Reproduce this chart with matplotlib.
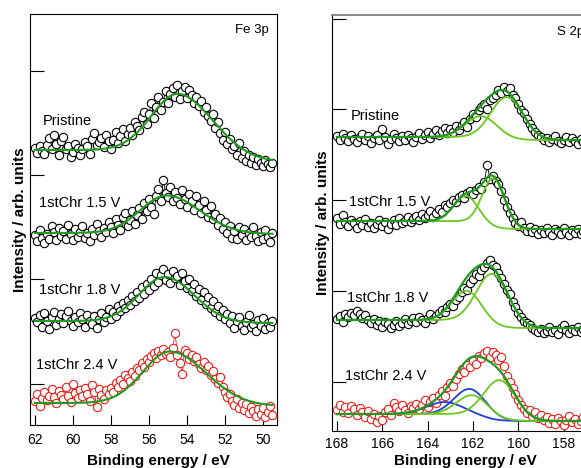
import numpy as np
import matplotlib
matplotlib.use('Agg')
import matplotlib.pyplot as plt

plt.rcParams['font.family'] = ['Liberation Sans', 'DejaVu Sans']

# Measured binding energies (eV), even steps of 0.125 eV.
fe_energy = np.linspace(62.0, 49.5, 101)
s_energy = np.linspace(168.0, 156.5, 93)

spectrum_labels = ['Pristine', '1stChr 1.5 V', '1stChr 1.8 V', '1stChr 2.4 V']

# Fe 3p intensities (arb. units, offset per spectrum).
fe_pristine = [
    277, 272, 279, 274, 271, 280, 287, 276, 290, 281, 270, 284, 288, 276, 279, 268,
    273, 281, 277, 270, 276, 283, 279, 271, 286, 292, 280, 283, 287, 278, 290, 284,
    276, 285, 293, 282, 289, 296, 284, 291, 297, 290, 303, 299, 295, 308, 313, 301,
    311, 322, 307, 318, 328, 315, 323, 334, 322, 331, 337, 328, 340, 326, 334, 338,
    327, 335, 330, 322, 328, 319, 324, 313, 318, 309, 304, 311, 297, 303, 292, 285,
    293, 281, 286, 276, 279, 270, 282, 267, 274, 264, 270, 262, 268, 260, 266, 262,
    259, 265, 261, 258, 262]
fe_chr15 = [
    190, 184, 195, 187, 182, 191, 186, 199, 193, 185, 197, 189, 194, 186, 200, 191,
    185, 196, 188, 193, 199, 187, 192, 184, 196, 190, 201, 194, 188, 197, 193, 203,
    198, 192, 206, 200, 195, 208, 212, 199, 205, 214, 201, 210, 217, 206, 222, 214,
    226, 218, 211, 229, 236, 224, 245, 232, 228, 238, 224, 233, 227, 221, 235, 226,
    218, 231, 224, 215, 229, 220, 212, 224, 215, 208, 219, 206, 211, 200, 207, 196,
    203, 192, 199, 187, 194, 186, 198, 190, 196, 185, 192, 188, 198, 189, 184, 193,
    186, 195, 188, 183, 192]
fe_chr18 = [
    107, 103, 110, 98, 112, 104, 96, 108, 113, 100, 106, 111, 102, 109, 114, 104,
    99, 108, 103, 112, 106, 98, 110, 104, 101, 109, 97, 106, 112, 103, 108, 116,
    106, 113, 109, 119, 114, 122, 117, 125, 120, 129, 124, 133, 127, 138, 131, 141,
    135, 146, 139, 152, 143, 150, 156, 145, 151, 142, 154, 147, 149, 140, 152, 144,
    137, 146, 134, 141, 129, 136, 125, 133, 121, 128, 117, 124, 113, 119, 109, 115,
    106, 111, 102, 109, 97, 104, 108, 99, 95, 103, 110, 98, 101, 94, 105, 99,
    107, 96, 102, 98, 104]
fe_chr24 = [
    24, 31, 19, 27, 33, 25, 29, 36, 28, 22, 34, 30, 26, 38, 29, 23,
    41, 32, 27, 35, 29, 37, 31, 24, 40, 33, 18, 36, 30, 26, 35, 31,
    37, 33, 42, 38, 45, 41, 50, 47, 44, 53, 49, 57, 55, 62, 58, 66,
    63, 69, 72, 67, 74, 70, 76, 71, 73, 68, 77, 92, 70, 62, 51, 75,
    72, 66, 70, 64, 68, 61, 57, 63, 55, 59, 50, 54, 46, 42, 48, 38,
    33, 28, 31, 24, 20, 26, 17, 22, 15, 21, 12, 18, 14, 9, 16, 11,
    17, 8, 13, 19, 10]

# S 2p intensities (arb. units, offset per spectrum).
s_pristine = [
    295, 291, 297, 293, 290, 296, 292, 289, 294, 297, 291, 295, 288, 293, 296, 291,
    302, 294, 287, 292, 297, 293, 290, 295, 291, 296, 293, 289, 294, 298, 292, 296,
    299, 293, 297, 301, 296, 300, 303, 298, 302, 299, 305, 301, 306, 309, 304, 312,
    317, 314, 321, 324, 327, 322, 331, 333, 336, 341, 338, 344, 340, 343, 336, 333,
    327, 321, 318, 312, 307, 303, 299, 296, 294, 291, 293, 289, 292, 295, 290, 288,
    291, 294, 289, 293, 290, 287, 292, 289, 294, 290, 288, 292, 289]
s_chr15 = [
    213, 207, 216, 209, 205, 211, 208, 203, 210, 206, 212, 204, 208, 203, 207, 211,
    205, 209, 202, 207, 211, 206, 213, 208, 210, 214, 209, 212, 215, 211, 217, 213,
    216, 220, 214, 218, 222, 219, 226, 224, 228, 231, 229, 234, 236, 233, 238, 240,
    237, 241, 244, 242, 249, 266, 252, 255, 250, 247, 240, 231, 224, 218, 213, 208,
    205, 209, 203, 200, 204, 199, 202, 197, 201, 198, 203, 199, 196, 202, 200, 197,
    203, 199, 196, 201, 198, 202, 197, 200, 196, 201, 198, 203, 199]
s_chr18 = [
    112, 115, 109, 117, 114, 118, 116, 120, 117, 113, 116, 111, 108, 112, 106, 110,
    104, 109, 107, 103, 106, 110, 105, 108, 112, 107, 110, 113, 109, 114, 111, 108,
    113, 117, 112, 115, 118, 121, 119, 124, 127, 125, 131, 134, 139, 143, 141, 148,
    152, 157, 155, 161, 164, 168, 171, 166, 164, 158, 153, 147, 141, 137, 129, 124,
    118, 114, 110, 108, 106, 103, 101, 99, 102, 98, 100, 104, 99, 101, 97, 103,
    106, 101, 98, 102, 100, 104, 99, 102, 98, 103, 100, 97, 101]
s_chr24 = [
    21, 26, 19, 24, 18, 25, 22, 16, 23, 19, 14, 20, 12, 17, 9, 15,
    11, 19, 22, 16, 28, 24, 20, 26, 21, 18, 25, 23, 27, 22, 26, 31,
    24, 29, 33, 28, 36, 40, 35, 44, 48, 45, 52, 57, 62, 59, 66, 64,
    70, 67, 75, 73, 78, 80, 74, 79, 76, 71, 74, 65, 55, 49, 43, 37,
    31, 26, 22, 18, 21, 15, 19, 13, 16, 11, 14, 8, 12, 7, 13, 10,
    6, 11, 15, 9, 12, 7, 10, 14, 9, 13, 8, 11, 7]

fe_spectra = [fe_pristine, fe_chr15, fe_chr18, fe_chr24]
s_spectra = [s_pristine, s_chr15, s_chr18, s_chr24]
data_colors = ['black', 'black', 'black', '#e8201c']

# Fe 3p fit: peak centre, height, width on high / low BE side, background high / low.
fe_center = [54.35, 55.05, 55.15, 54.85]
fe_height = [62, 38, 45, 53]
fe_sigma_high = [1.45, 1.4, 1.35, 1.45]
fe_sigma_low = [1.85, 1.75, 1.55, 1.9]
fe_bg_high = [275, 192, 104, 22]
fe_bg_low = [263, 191, 102, 19]

# S 2p fit: background and doublet components per spectrum.
s_bg_high = [294, 210, 111, 17]
s_bg_low = [291, 202, 103, 10]
s_bg_step = [160.8, 161.6, 161.5, 161.5]
s_comp_center = [[161.65, 160.5], [162.3, 161.1], [162.27, 161.13],
                 [163.25, 162.13, 162.0, 160.82]]
s_comp_height = [[21, 42], [26, 49], [30, 52], [12, 26, 20, 40]]
s_comp_sigma = [[0.7, 0.7], [0.55, 0.5], [0.65, 0.7], [0.8, 0.7, 0.7, 0.7]]
s_comp_kind = [['g', 'g'], ['g', 'g'], ['g', 'g'], ['b', 'b', 'g', 'g']]

DARK_GREEN = '#1f9a1f'
LIGHT_GREEN = '#6cc81e'
BLUE = '#1f3fd6'


def gauss(x, c, a, s_high, s_low):
    s = np.where(x > c, s_high, s_low)
    return a * np.exp(-(x - c) ** 2 / (2 * s ** 2))


def step(x, high, low, c, w):
    return low + (high - low) * 0.5 * (1 + np.tanh((x - c) / w))


def plot_data(ax, x, y, color):
    ax.plot(x, y, '-', color=color, lw=0.6, zorder=2)
    ax.plot(x, y, 'o', ms=6, mfc='white', mec=color, mew=0.8, zorder=3)


fig = plt.figure(figsize=(5.81, 4.68), dpi=100)

# Fe 3p panel.
ax1 = fig.add_axes([30 / 581, 43 / 468, 247 / 581, 411 / 468])
xf = np.linspace(62.0, 49.5, 500)
for i, y in enumerate(fe_spectra):
    plot_data(ax1, fe_energy, y, data_colors[i])
    bg = step(xf, fe_bg_high[i], fe_bg_low[i], fe_center[i], 1.5)
    fit = bg + gauss(xf, fe_center[i], fe_height[i], fe_sigma_high[i], fe_sigma_low[i])
    ax1.plot(xf, fit, color=DARK_GREEN, lw=1.5, zorder=4)

ax1.set_xlim(62.26, 49.26)
ax1.set_ylim(0, 411)
ax1.set_xticks(np.arange(50, 63, 2))
ax1.set_yticks([41, 146, 250, 354])
ax1.tick_params(axis='x', direction='in', length=7, width=0.8, labelsize=10, pad=6)
ax1.tick_params(axis='y', direction='in', length=10, width=0.8, labelleft=False)
for sp in ax1.spines.values():
    sp.set_linewidth(0.8)

fe_label_x = [61.58, 61.77, 61.79, 61.94]
fe_label_y = [300, 218, 131, 56]
for i, lab in enumerate(spectrum_labels):
    ax1.text(fe_label_x[i], fe_label_y[i], lab, fontsize=10.5, va='baseline')
ax1.text(51.47, 392, 'Fe 3p', fontsize=9.5, va='baseline')

# S 2p panel (runs past the right edge of the figure).
ax2 = fig.add_axes([332 / 581, 37 / 468, 277 / 581, 416 / 468])
xs = np.linspace(168.0, 156.3, 600)
for i, y in enumerate(s_spectra):
    plot_data(ax2, s_energy, y, data_colors[i])
    bg = step(xs, s_bg_high[i], s_bg_low[i], s_bg_step[i], 0.7)
    total = bg.copy()
    for c, a, s, k in zip(s_comp_center[i], s_comp_height[i],
                          s_comp_sigma[i], s_comp_kind[i]):
        peak = gauss(xs, c, a, s, s)
        total += peak
        ax2.plot(xs, bg + peak, color=LIGHT_GREEN if k == 'g' else BLUE,
                 lw=1.3, zorder=4)
    ax2.plot(xs, total, color=DARK_GREEN, lw=1.6, zorder=5)

ax2.set_xlim(168.22, 156.0)
ax2.set_ylim(0, 416)
ax2.set_xticks(np.arange(156, 169, 2))
ax2.set_yticks([49, 140, 231, 322, 412])
ax2.tick_params(axis='x', direction='in', length=7, width=0.8, labelsize=10, pad=4)
ax2.tick_params(axis='y', direction='in', length=10, width=0.8, labelleft=False)
for sp in ax2.spines.values():
    sp.set_linewidth(0.8)
ax2.spines['top'].set_color('#777777')
ax2.spines['top'].set_linewidth(1.2)

s_label_x = [167.40, 167.46, 167.57, 167.65]
s_label_y = [311, 225, 129, 51]
for i, lab in enumerate(spectrum_labels):
    ax2.text(s_label_x[i], s_label_y[i], lab, fontsize=10.5, va='baseline')
ax2.text(158.28, 396, 'S 2p', fontsize=9.5, va='baseline')

# Axis titles.
fig.text(158 / 581, 2.5 / 468, 'Binding energy / eV', fontsize=11,
         fontweight='bold', ha='center', va='baseline')
fig.text(465 / 581, 2.5 / 468, 'Binding energy / eV', fontsize=11,
         fontweight='bold', ha='center', va='baseline')
fig.text(20 / 581, 1 - 219.5 / 468, 'Intensity / arb. units', fontsize=11,
         fontweight='bold', rotation=90, ha='center', va='center')
fig.text(323.5 / 581, 1 - 223 / 468, 'Intensity / arb. units', fontsize=11,
         fontweight='bold', rotation=90, ha='center', va='center')

fig.savefig('out.png', dpi=100)
